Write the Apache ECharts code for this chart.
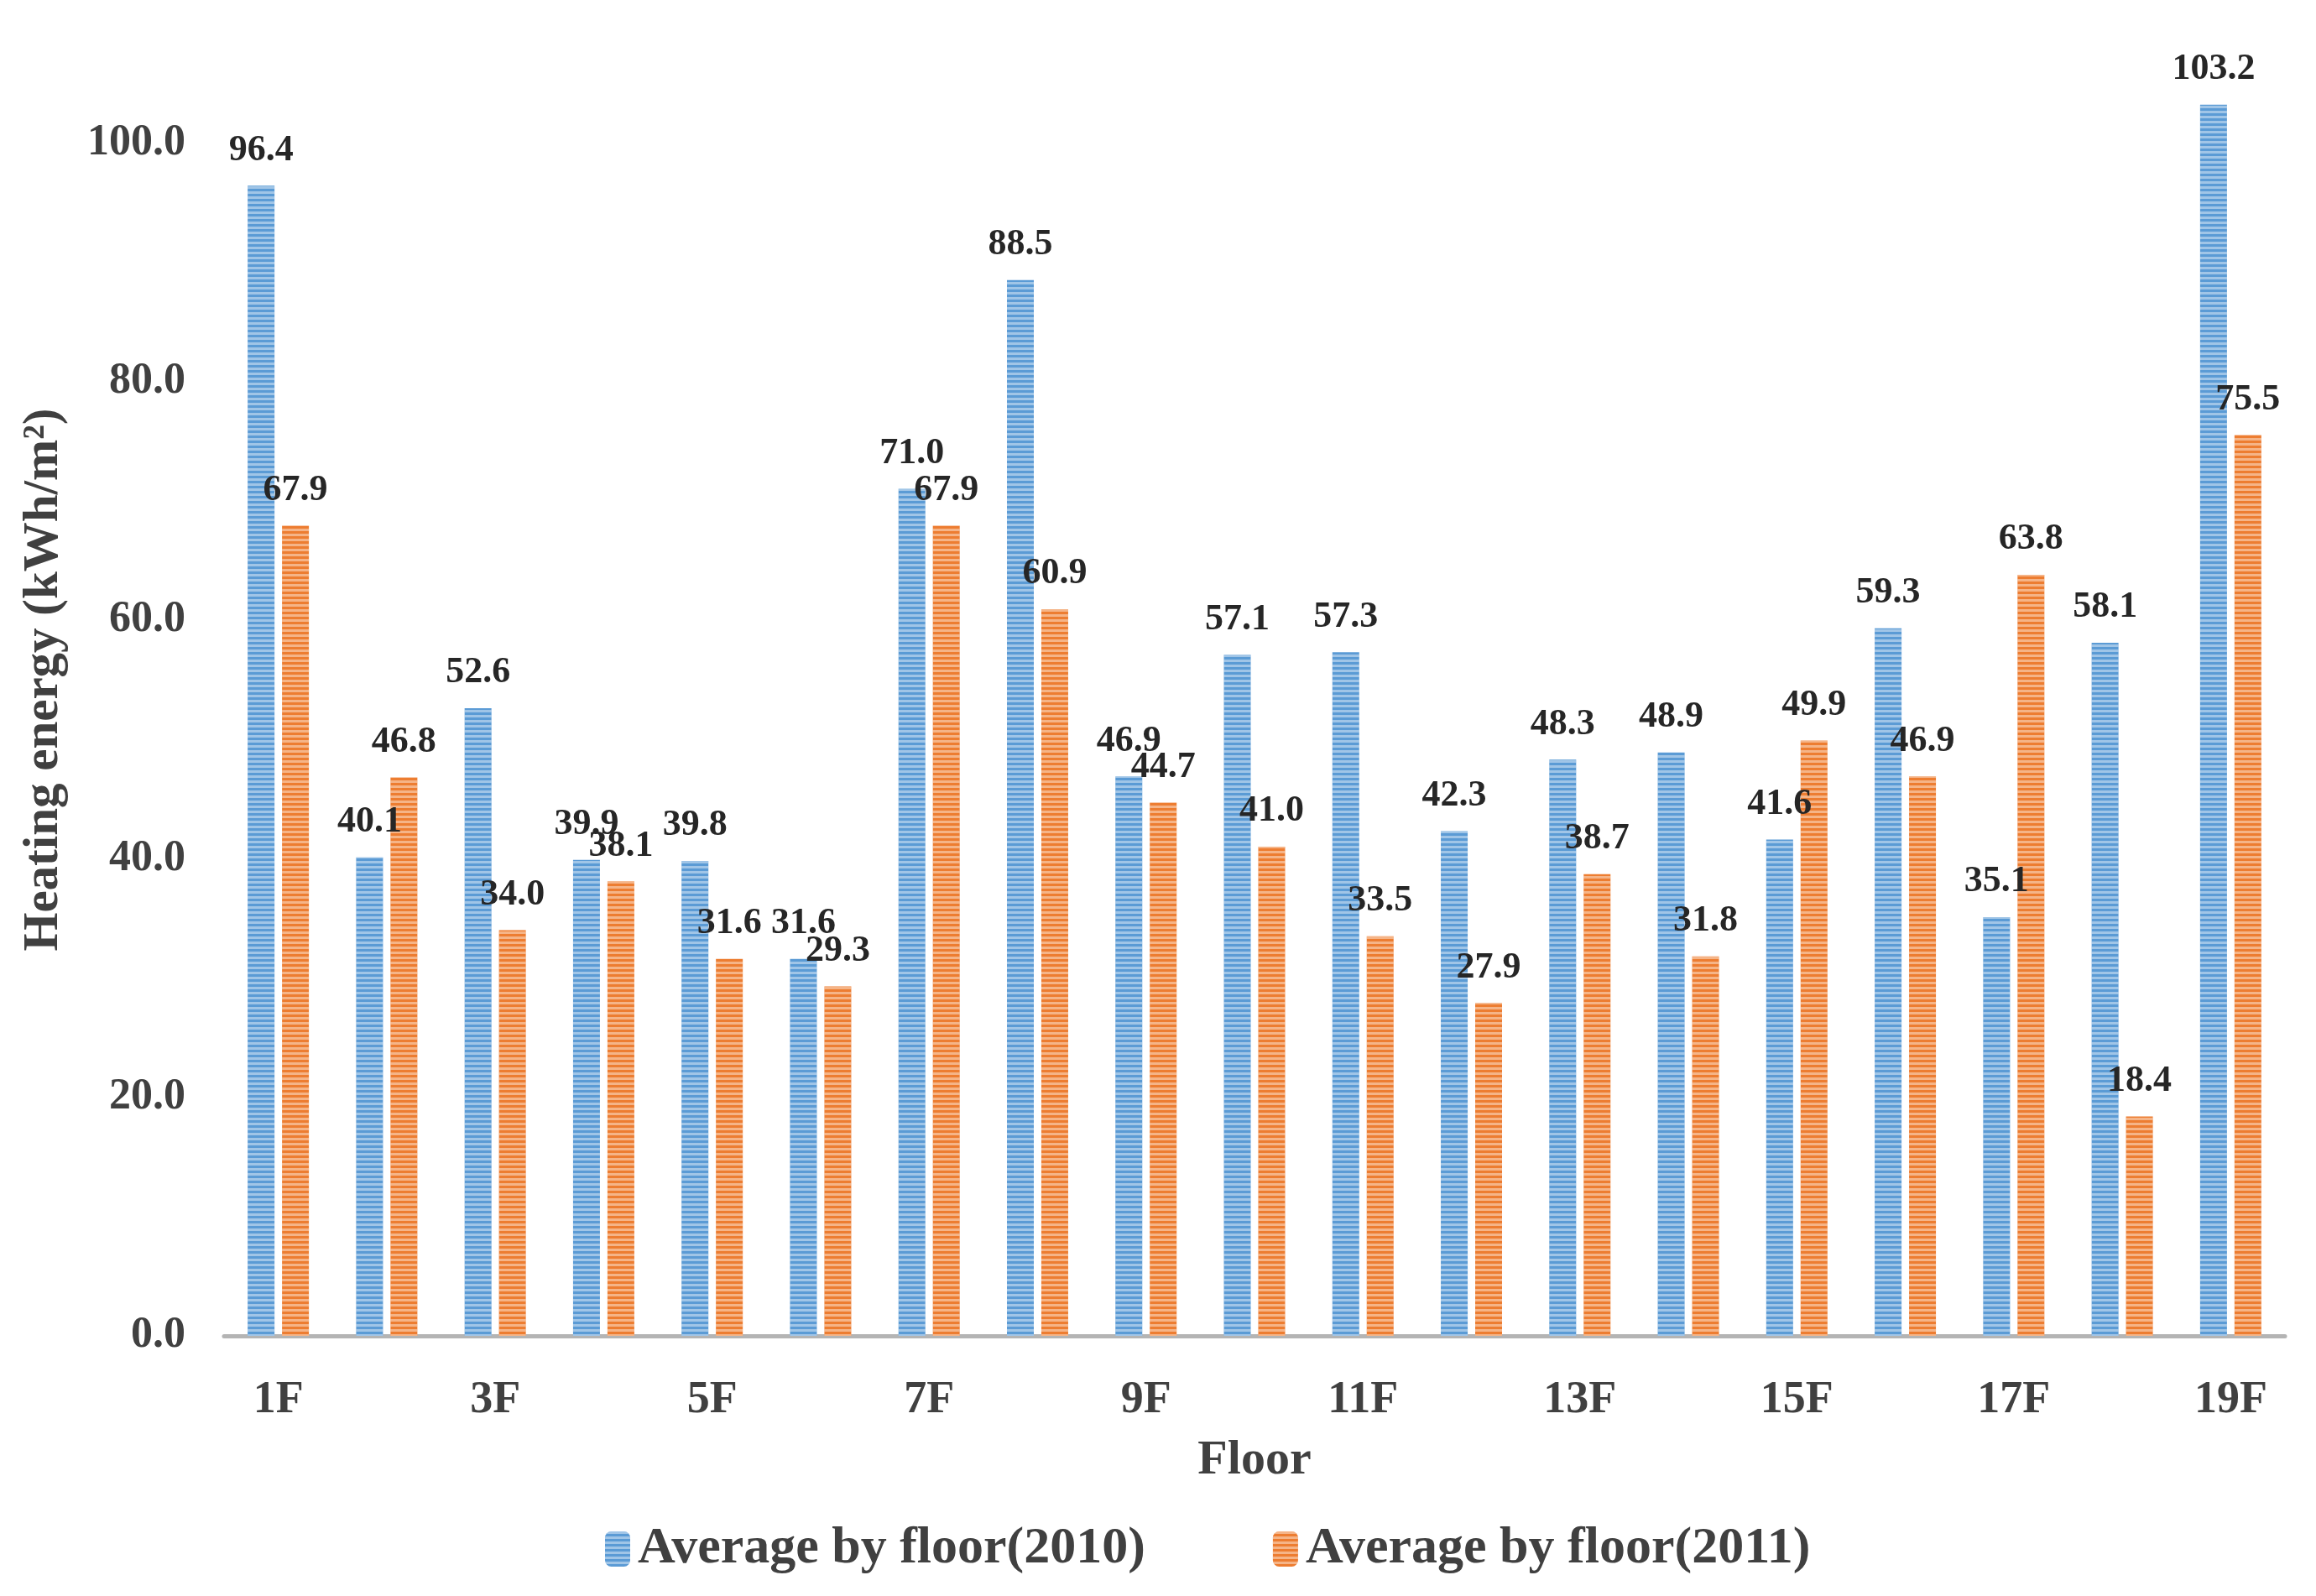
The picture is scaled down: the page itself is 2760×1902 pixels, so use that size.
<!DOCTYPE html>
<html>
<head>
<meta charset="utf-8">
<script src="https://cdn.jsdelivr.net/npm/echarts@6/dist/echarts.min.js"></script>
<style>
html,body{margin:0;padding:0;background:#fff;}
#chart{width:2760px;height:1902px;}
</style>
</head>
<body>
<div id="chart"></div>
<script>
const floors = ['1F','2F','3F','4F','5F','6F','7F','8F','9F','10F','11F','12F','13F','14F','15F','16F','17F','18F','19F'];
const avg2010 = [96.4, 40.1, 52.6, 39.9, 39.8, 31.6, 71.0, 88.5, 46.9, 57.1, 57.3, 42.3, 48.3, 48.9, 41.6, 59.3, 35.1, 58.1, 103.2];
const avg2011 = [67.9, 46.8, 34.0, 38.1, 31.6, 29.3, 67.9, 60.9, 44.7, 41.0, 33.5, 27.9, 38.7, 31.8, 49.9, 46.9, 63.8, 18.4, 75.5];
const seriesNames = ['Average by floor(2010)', 'Average by floor(2011)'];

const FONT = '"Liberation Serif", "Times New Roman", serif';
const chart = echarts.init(document.getElementById('chart'));

function stripe() {
  return {
    symbol: 'rect',
    symbolSize: 1,
    dashArrayX: [1, 0],
    dashArrayY: [3, 3],
    rotation: 0,
    color: 'rgba(255,255,255,0.42)'
  };
}

function barSeries(name, data, color) {
  return {
    name: name,
    type: 'bar',
    data: data,
    barWidth: 32,
    barGap: '28%',
    itemStyle: { color: color, decal: stripe() },
    label: {
      show: true,
      position: 'top',
      distance: 20,
      fontFamily: FONT,
      fontWeight: 'bold',
      fontSize: 44,
      color: '#262626',
      formatter: p => Number(p.value).toFixed(1)
    }
  };
}

chart.setOption({
  backgroundColor: '#ffffff',
  animation: false,
  grid: { left: 267, right: 37, top: 28, bottom: 310, containLabel: false },
  legend: {
    data: seriesNames,
    left: 716,
    top: 1810,
    itemWidth: 30,
    itemHeight: 42,
    itemGap: 152,
    textStyle: { fontFamily: FONT, fontWeight: 'bold', fontSize: 62, color: '#404040', padding: [0, 0, 0, 4] }
  },
  xAxis: {
    type: 'category',
    data: floors,
    name: 'Floor',
    nameLocation: 'middle',
    nameGap: 120,
    nameTextStyle: { fontFamily: FONT, fontWeight: 'bold', fontSize: 58, color: '#404040' },
    axisLine: { show: true, lineStyle: { color: '#b4b4b4', width: 5 } },
    axisTick: { show: false },
    axisLabel: {
      interval: 1,
      margin: 50,
      fontFamily: FONT,
      fontWeight: 'bold',
      fontSize: 54,
      color: '#404040'
    },
    splitLine: { show: false }
  },
  yAxis: {
    type: 'value',
    min: 0,
    max: 110,
    interval: 20,
    name: 'Heating energy (kWh/m²)',
    nameLocation: 'middle',
    nameGap: 185,
    nameTextStyle: { fontFamily: FONT, fontWeight: 'bold', fontSize: 59, color: '#404040' },
    axisLine: { show: false },
    axisTick: { show: false },
    splitLine: { show: false },
    axisLabel: {
      showMaxLabel: false,
      margin: 46,
      fontFamily: FONT,
      fontWeight: 'bold',
      fontSize: 52,
      color: '#404040',
      formatter: v => (v % 20 === 0 ? v.toFixed(1) : '')
    }
  },
  series: [
    barSeries(seriesNames[0], avg2010, '#5B9BD5'),
    barSeries(seriesNames[1], avg2011, '#ED7D31')
  ]
});
</script>
</body>
</html>
